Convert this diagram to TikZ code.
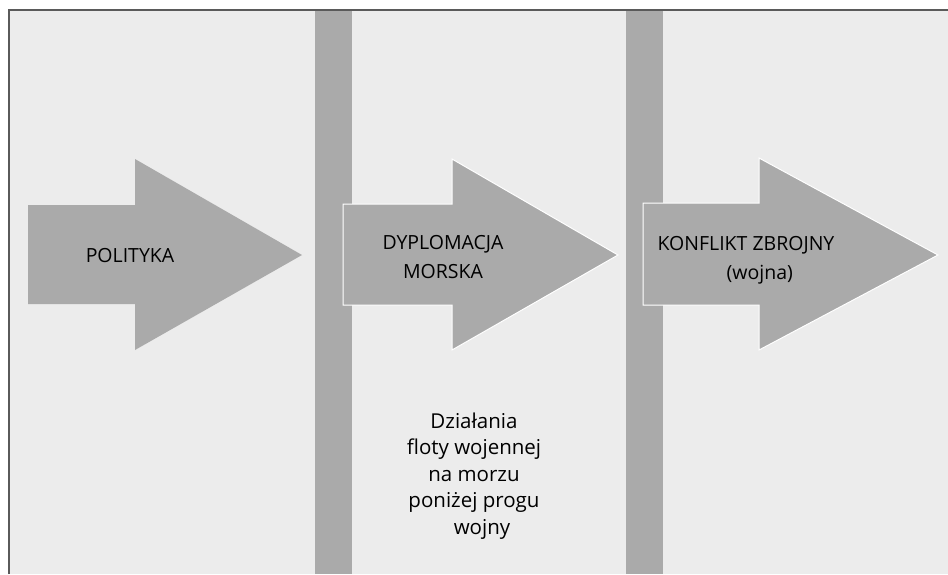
\documentclass[tikz,border=0pt]{standalone}
\usepackage{fontspec}
\setmainfont{Open Sans}
\begin{document}
\begin{tikzpicture}[x=1pt,y=-1pt,
  bigarrow/.style={fill=arrowgray, draw=white, line width=1pt, line join=miter},
  lbl/.style={font=\fontsize{19.5}{29}\selectfont, text=black, inner sep=0pt, align=center}]
\definecolor{bggray}{HTML}{ECECEC}
\definecolor{bargray}{HTML}{AAAAAA}
\definecolor{arrowgray}{HTML}{AAAAAA}
\definecolor{framegray}{HTML}{5A5A5A}
\useasboundingbox (0,0) rectangle (948,574);
\fill[white] (0,0) rectangle (948,574);
\fill[bggray] (9,10) rectangle (948,574);
\draw[framegray, line width=2pt] (9,574) -- (9,10) -- (948,10);
% vertical bars
\fill[bargray] (315,11) rectangle (352,574);
\fill[bargray] (626,11) rectangle (663,574);
% arrows
\fill[arrowgray] (28,205) -- (135,205) -- (135,159) -- (302,255) -- (135,350) -- (135,304) -- (28,304) -- cycle;
\draw[bigarrow] (343,204) -- (452,204) -- (452,159) -- (618,255) -- (452,350) -- (452,305) -- (343,305) -- cycle;
\draw[bigarrow] (643,203) -- (759,203) -- (759,158) -- (938,255) -- (759,350) -- (759,305) -- (643,305) -- cycle;
% labels
\node[lbl] (pol) at (130,256) {POLITYKA};
\node[lbl] (dyp) at (443,257) {DYPLOMACJA\\MORSKA};
\node[lbl, align=left] (kon) at (746,260) {KONFLIKT ZBROJNY\\\hspace*{69pt}(wojna)};
\node[lbl, font=\fontsize{20.5}{26.5}\selectfont] (dzi) at (474,476) {Działania\\floty wojennej\\na morzu\\poniżej progu\\\hspace*{16pt}wojny};
\end{tikzpicture}
\end{document}
